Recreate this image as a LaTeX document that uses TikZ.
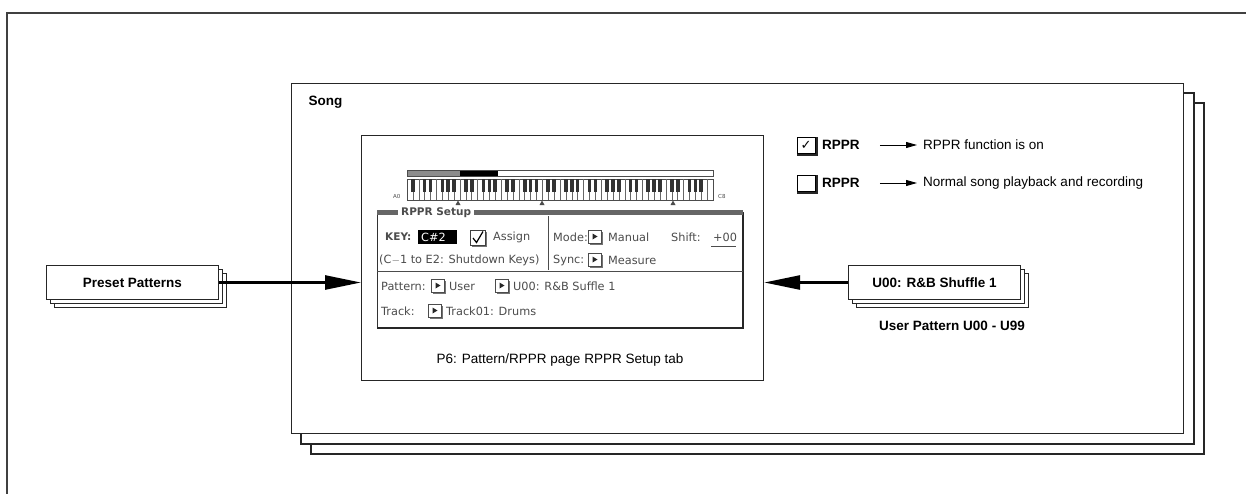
\documentclass[tikz,border=0pt]{standalone}
\usepackage{fontspec}
\setmainfont{Liberation Sans}
\newfontfamily\dejavu{DejaVu Sans}
\usetikzlibrary{arrows.meta,calc}
\begin{document}
\begin{tikzpicture}[x=1pt,y=-1pt,
  frame/.style={draw=black!85,line width=1.3pt,fill=white},
  lbl/.style={font=\fontsize{13.5}{16}\selectfont},
  blbl/.style={font=\fontsize{13.5}{16}\selectfont\bfseries},
  lcd/.style={font=\dejavu\fontsize{11.3}{12}\selectfont,text=black!70,inner sep=0pt,anchor=west},
  patbox/.style={draw=black!85,line width=1pt,fill=white,minimum width=172pt,minimum height=34pt,inner sep=0pt,font=\fontsize{13.5}{16}\selectfont\bfseries},
  patback/.style={draw=black!85,line width=1pt,fill=white},
  bigarrow/.style={line width=2.6pt,-{Triangle[length=36pt,width=14pt]}},
  smallarrow/.style={line width=0.9pt,-{Triangle[length=11pt,width=6pt]}},
  btn/.pic={\fill[black!55] (1.5,1.5) rectangle (14.5,14.5);
            \draw[fill=white,line width=0.6pt,draw=black!70] (0,0) rectangle (13,13);
            \fill[black!85] (4.5,3.5) -- (9.5,6.5) -- (4.5,9.5) -- cycle;},
  chk/.pic={\fill[black!85] (0,0) rectangle (21,19);
            \draw[fill=white,line width=1pt] (0,0) rectangle (18,16);},
]
\useasboundingbox (0,0) rectangle (1246,493);
\clip (0,0) rectangle (1246,493);
% outer frame
\draw[line width=1.3pt,draw=black!75] (7,520) -- (7,13) -- (1270,13);

% song stack
\draw[frame] (311,103) rectangle (1204,454);
\draw[frame] (301,93) rectangle (1194,444);
\node[frame,anchor=north west,minimum width=892pt,minimum height=350pt,inner sep=0pt] (song) at (291,83) {};
\node[blbl,anchor=west] (songlbl) at (305,102) {Song};

% screen
\node[draw=black!85,line width=1.2pt,fill=white,anchor=north west,minimum width=402pt,minimum height=245pt,inner sep=0pt] (screen) at (361,135) {};
\node[lbl] (cap) at (560,360) {P6: Pattern/RPPR page RPPR Setup tab};

% keyboard
\fill[black!45] (407,170) rectangle (460,176);
\fill[black] (460,170) rectangle (498,176);
\draw[black!70,line width=0.6pt] (407,170) rectangle (713,176);
\draw[black!70,line width=0.6pt] (407,179) rectangle (713,200);
\foreach \i in {1,...,51} \draw[black!60,line width=0.5pt] ({407+\i*5.885},179) -- ({407+\i*5.885},200);
\foreach \i in {0,...,50} {
  \pgfmathtruncatemacro\m{mod(\i,7)}
  \ifnum\m=1\relax\else\ifnum\m=4\relax\else
    \fill[black!80] ({407+(\i+1)*5.885-1.8},179) rectangle ++(3.6,13);
  \fi\fi
}
\node[lcd,font=\dejavu\fontsize{5.5}{6}\selectfont] (a0) at (393,196) {A0};
\node[lcd,font=\dejavu\fontsize{5.5}{6}\selectfont] (c8) at (718,196) {C8};
\foreach \x in {458,542,673} \fill[black!70] (\x-2.5,205) -- (\x,200.5) -- (\x+2.5,205) -- cycle;

% LCD panel
\draw[black!80,line width=0.8pt] (377,212) rectangle (743,328);
\draw[black!85,line width=2pt] (377,328) -- (743,328) -- (743,213);
\fill[black!60] (377,210) rectangle (743,215);
\node[lcd,fill=white,inner xsep=3pt,inner ysep=1pt,font=\dejavu\bfseries\fontsize{10.5}{11}\selectfont] (title) at (398,212.5) {RPPR Setup};
\draw[black!70,line width=0.7pt] (548,216) -- (548,270);
\draw[black!70,line width=0.7pt] (377,271) -- (743,271);

% row 1
\node[lcd,font=\dejavu\bfseries\fontsize{10.5}{12}\selectfont] (key) at (385,237) {KEY:};
\fill[black] (418,230) rectangle (457,244);
\node[lcd,text=white] (keyval) at (421,237.5) {C\#2};
\fill[black!55] (471.5,231.5) rectangle (486.5,246.5);
\draw[fill=white,line width=0.7pt,draw=black!75] (470,230) rectangle (485,245);
\draw[line width=1.2pt] (473,238) -- (476.5,242.5) -- (483,231.5);
\node[lcd] (assign) at (493,237) {Assign};
\node[lcd] (mode) at (553,237) {Mode:};
\pic at (588,230) {btn};
\node[lcd] (manual) at (608,237) {Manual};
\node[lcd] (shift) at (671,237) {Shift:};
\node[lcd] (shiftv) at (713,237) {+00};
\draw[black!70,line width=0.6pt] (711,246) -- (736,246);
% row 2
\node[lcd] (range) at (379,260) {(C$-$1 to E2: Shutdown Keys)};
\node[lcd] (sync) at (553,260) {Sync:};
\pic at (588,253) {btn};
\node[lcd] (measure) at (608,260) {Measure};
% row 3
\node[lcd] (pattern) at (381,286) {Pattern:};
\pic at (431,279) {btn};
\node[lcd] (user) at (449,286) {User};
\pic at (495,279) {btn};
\node[lcd] (u00l) at (513,286) {U00: R\&B Suffle 1};
% row 4
\node[lcd] (track) at (381,311) {Track:};
\pic at (428,304) {btn};
\node[lcd] (trackv) at (446,311) {Track01: Drums};

% legend
\pic at (797,137) {chk};
\node[font=\dejavu\fontsize{13}{14}\selectfont,inner sep=0pt] (tick) at (806,145) {✓};
\node[blbl,anchor=west,inner sep=0pt] (r1) at (822,145) {RPPR};
\node[lbl,anchor=west,inner sep=0pt] (t1) at (923,145) {RPPR function is on};
\draw[smallarrow] ([xshift=20pt]r1.east) -- ([xshift=-6pt]t1.west);
\pic at (797,175) {chk};
\node[blbl,anchor=west,inner sep=0pt] (r2) at (822,183) {RPPR};
\node[lbl,anchor=west,inner sep=0pt] (t2) at (923,183) {Normal song playback and recording};
\draw[smallarrow] ([xshift=20pt]r2.east) -- ([xshift=-6pt]t2.west);

% preset patterns stack
\draw[patback] (54,273) rectangle ++(172,34);
\draw[patback] (50,269) rectangle ++(172,34);
\node[patbox,anchor=north west] (preset) at (46,265) {Preset Patterns};
\draw[bigarrow] (preset.east) -- (preset.east -| screen.west);

% user pattern stack
\draw[patback] (856,273) rectangle ++(172,34);
\draw[patback] (852,269) rectangle ++(172,34);
\node[patbox,anchor=north west] (u00) at (848,265) {U00: R\&B Shuffle 1};
\node[blbl] (userlbl) at (952,326) {User Pattern U00 - U99};
\draw[bigarrow] (u00.west) -- (u00.west -| screen.east);
\end{tikzpicture}
\end{document}
